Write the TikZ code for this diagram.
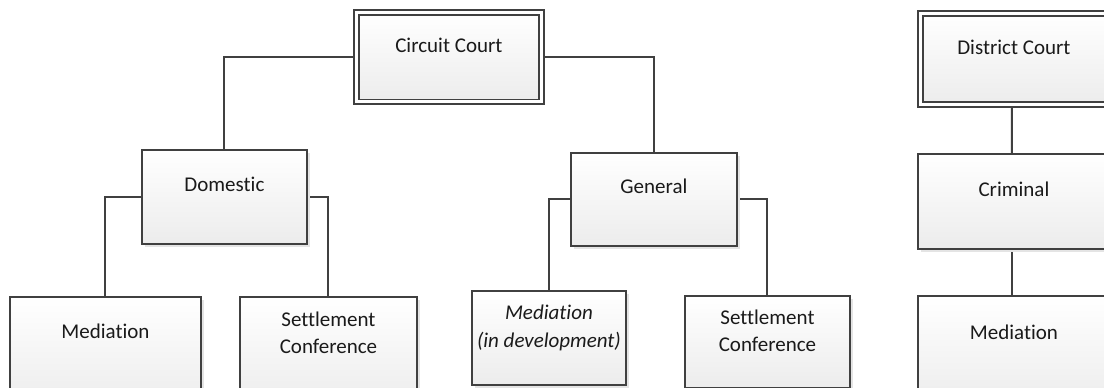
\documentclass[tikz,border=0pt]{standalone}
\usepackage{fontspec}
\setmainfont{Carlito}[Ligatures=NoCommon]
\usetikzlibrary{shadows,backgrounds}
\definecolor{edge}{HTML}{404040}
\definecolor{shade}{HTML}{E4E4E4}
\definecolor{boxbot}{HTML}{ECECEC}
\definecolor{ink}{HTML}{1A1A1A}
\tikzset{
  orgbox/.style={rectangle, draw=edge, line width=1.9pt, inner sep=0pt,
    top color=white, bottom color=boxbot, anchor=north west,
    drop shadow={shadow xshift=3.5pt, shadow yshift=-3.5pt, fill=shade, opacity=1}},
  courtbox/.style={orgbox, double=white, double distance=3.1pt, line width=1.8pt},
  lbl/.style={font=\fontsize{21}{26}\selectfont, text=ink, align=center,
    text height=13.5pt, text depth=0pt, inner sep=0pt},
  lbltwo/.style={font=\fontsize{21}{26.5}\selectfont, text=ink, align=center, inner sep=0pt},
  conn/.style={draw=edge, line width=2pt}
}
\begin{document}
\begin{tikzpicture}[x=1pt,y=-1pt]
\useasboundingbox (0,0) rectangle (1104,388);
\clip (0,0) rectangle (1104,388);
% boxes
\node[courtbox, minimum width=185pt, minimum height=89.5pt] (cc) at (355.5,11.5) {};
\node[orgbox, minimum width=165pt, minimum height=94pt] (dom) at (141,149) {};
\node[orgbox, minimum width=166pt, minimum height=93pt] (gen) at (570,152) {};
\node[orgbox, minimum width=191pt, minimum height=110pt] (med1) at (9,296) {};
\node[orgbox, minimum width=177pt, minimum height=110pt] (set1) at (239,296) {};
\node[orgbox, minimum width=154pt, minimum height=94pt] (med2) at (471,290) {};
\node[orgbox, minimum width=165pt, minimum height=92pt] (set2) at (684,295) {};
\node[courtbox, minimum width=187pt, minimum height=91pt] (dc) at (919.5,12.5) {};
\node[orgbox, minimum width=192pt, minimum height=95pt] (crim) at (917,153) {};
\node[orgbox, minimum width=192pt, minimum height=110pt] (med3) at (917,295) {};
% labels
\node[lbl] (tcc) at ([yshift=-34pt]cc.north) {Circuit Court};
\node[lbl] (tdom) at ([yshift=-36pt]dom.north) {Domestic};
\node[lbl] (tgen) at ([yshift=-35pt]gen.north) {General};
\node[lbl] (tmed1) at ([yshift=-36pt]med1.north) {Mediation};
\node[lbltwo] (tset1) at ([yshift=-37pt]set1.north) {Settlement\\Conference};
\node[lbltwo, font=\fontsize{21}{28}\selectfont\itshape] (tmed2) at ([yshift=-38pt]med2.north) {Mediation\\(in development)};
\node[lbltwo] (tset2) at ([yshift=-36pt]set2.north) {Settlement\\Conference};
\node[lbl] (tdc) at ([yshift=-35pt]dc.north) {District Court};
\node[lbl] (tcrim) at ([yshift=-37pt]crim.north) {Criminal};
\node[lbl] (tmed3) at ([yshift=-38pt]med3.north) {Mediation};
% connectors
\begin{scope}[on background layer]
\draw[conn] (cc.west) -| (dom.north);
\draw[conn] (cc.east) -| (gen.north);
\draw[conn] (dom.west) -| (med1.north);
\draw[conn] (dom.east) -| (set1.north);
\draw[conn] (gen.west) -| (med2.north);
\draw[conn] (gen.east) -| (set2.north);
\draw[conn] ([xshift=-2pt]dc.south) -- ([xshift=-2pt]crim.north);
\draw[conn] ([xshift=-2pt]crim.south) -- ([xshift=-2pt]med3.north);
\end{scope}
\end{tikzpicture}
\end{document}
